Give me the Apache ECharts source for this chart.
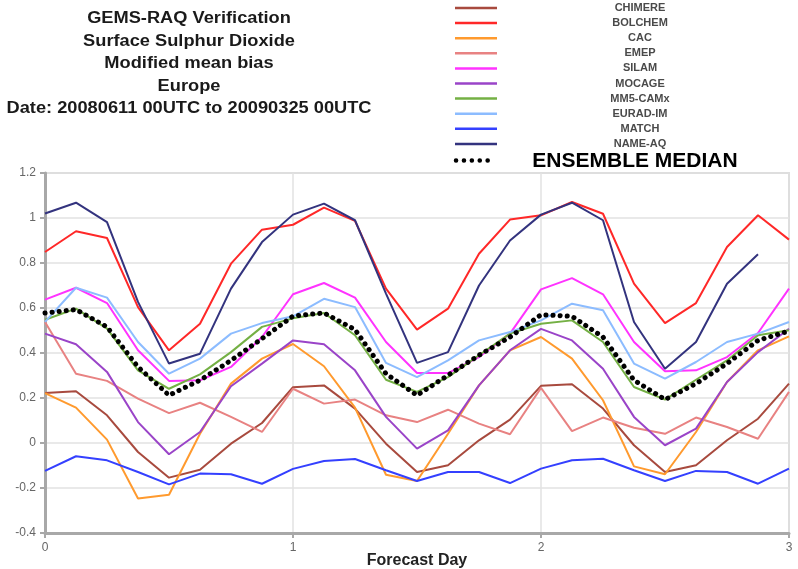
<!DOCTYPE html>
<html>
<head>
<meta charset="utf-8">
<script src="https://cdn.jsdelivr.net/npm/echarts@6/dist/echarts.min.js"></script>
<style>
  html, body { margin: 0; padding: 0; background: #fff; }
  #chart { width: 798px; height: 569px; }
</style>
</head>
<body>
<div id="chart"></div>
<script>
// Forecast lead time in days, 3-hourly steps from 0 to 3
const forecastDays = [0, 0.125, 0.25, 0.375, 0.5, 0.625, 0.75, 0.875,
  1, 1.125, 1.25, 1.375, 1.5, 1.625, 1.75, 1.875,
  2, 2.125, 2.25, 2.375, 2.5, 2.625, 2.75, 2.875, 3];

const yTicks = [-0.4, -0.2, 0, 0.2, 0.4, 0.6, 0.8, 1, 1.2];
const xTicks = [0, 1, 2, 3];
const xAxisTitle = 'Forecast Day';

const titleLines = [
  'GEMS-RAQ Verification',
  'Surface Sulphur Dioxide',
  'Modified mean bias',
  'Europe',
  'Date: 20080611 00UTC to 20090325 00UTC'
];

// Modified mean bias per model
const chimere = [0.222, 0.23, 0.123, -0.04, -0.154, -0.119, -0.003, 0.089, 0.248, 0.256, 0.153, -0.003, -0.129, -0.099, 0.012, 0.104, 0.254, 0.261, 0.153, -0.01, -0.129, -0.099, 0.012, 0.108, 0.264];
const bolchem = [0.849, 0.941, 0.911, 0.604, 0.412, 0.53, 0.797, 0.948, 0.97, 1.046, 0.987, 0.686, 0.504, 0.597, 0.841, 0.993, 1.012, 1.071, 1.019, 0.708, 0.533, 0.622, 0.871, 1.012, 0.904];
const cac = [0.222, 0.157, 0.015, -0.247, -0.23, 0.041, 0.264, 0.375, 0.44, 0.341, 0.157, -0.141, -0.169, 0.041, 0.256, 0.412, 0.471, 0.375, 0.19, -0.104, -0.139, 0.049, 0.271, 0.412, 0.474];
const emep = [0.538, 0.308, 0.276, 0.197, 0.133, 0.179, 0.116, 0.049, 0.241, 0.175, 0.193, 0.123, 0.093, 0.148, 0.086, 0.039, 0.245, 0.053, 0.113, 0.068, 0.041, 0.113, 0.071, 0.019, 0.227];
const silam = [0.637, 0.69, 0.622, 0.412, 0.276, 0.279, 0.338, 0.471, 0.661, 0.711, 0.646, 0.449, 0.311, 0.311, 0.382, 0.486, 0.683, 0.733, 0.661, 0.449, 0.319, 0.323, 0.382, 0.489, 0.686];
const mocage = [0.486, 0.439, 0.316, 0.093, -0.05, 0.049, 0.252, 0.353, 0.456, 0.439, 0.323, 0.116, -0.025, 0.056, 0.256, 0.412, 0.507, 0.456, 0.33, 0.116, -0.01, 0.064, 0.271, 0.404, 0.508];
const mm5camx = [0.548, 0.597, 0.508, 0.323, 0.241, 0.305, 0.404, 0.516, 0.554, 0.578, 0.479, 0.281, 0.227, 0.293, 0.39, 0.486, 0.53, 0.545, 0.449, 0.249, 0.193, 0.281, 0.367, 0.479, 0.501];
const euradim = [0.538, 0.69, 0.646, 0.449, 0.308, 0.375, 0.486, 0.533, 0.563, 0.641, 0.604, 0.356, 0.293, 0.367, 0.456, 0.493, 0.545, 0.619, 0.59, 0.353, 0.286, 0.36, 0.449, 0.486, 0.538];
const match = [-0.124, -0.059, -0.077, -0.129, -0.184, -0.136, -0.139, -0.181, -0.115, -0.08, -0.071, -0.121, -0.169, -0.129, -0.129, -0.178, -0.114, -0.077, -0.07, -0.121, -0.169, -0.124, -0.129, -0.181, -0.114];
const nameaq = [1.02, 1.068, 0.982, 0.627, 0.353, 0.397, 0.686, 0.893, 1.015, 1.064, 0.99, 0.664, 0.356, 0.404, 0.70, 0.90, 1.015, 1.068, 0.99, 0.538, 0.33, 0.449, 0.708, 0.839];
const ensembleMedian = [0.578, 0.593, 0.516, 0.338, 0.212, 0.279, 0.367, 0.464, 0.564, 0.578, 0.504, 0.308, 0.212, 0.301, 0.39, 0.471, 0.57, 0.563, 0.471, 0.279, 0.193, 0.264, 0.353, 0.456, 0.498];

const models = [
  { name: 'CHIMERE',  values: chimere,  color: '#a84a3e' },
  { name: 'BOLCHEM',  values: bolchem,  color: '#ff2828' },
  { name: 'CAC',      values: cac,      color: '#ff9a2e' },
  { name: 'EMEP',     values: emep,     color: '#e88282' },
  { name: 'SILAM',    values: silam,    color: '#ff33ff' },
  { name: 'MOCAGE',   values: mocage,   color: '#9a44c8' },
  { name: 'MM5-CAMx', values: mm5camx,  color: '#74b044' },
  { name: 'EURAD-IM', values: euradim,  color: '#8cbcff' },
  { name: 'MATCH',    values: match,    color: '#3440ff' },
  { name: 'NAME-AQ',  values: nameaq,   color: '#33337e' }
];
const medianName = 'ENSEMBLE MEDIAN';

const pairs = vals => vals.map((v, i) => [forecastDays[i], v]);

const series = models.map(m => ({
  name: m.name,
  type: 'line',
  data: pairs(m.values),
  symbol: 'none',
  lineStyle: { color: m.color, width: 2 },
  itemStyle: { color: m.color },
  animation: false
}));
series.push({
  name: medianName,
  type: 'line',
  data: pairs(ensembleMedian),
  symbol: 'none',
  z: 5,
  lineStyle: { color: '#000', width: 5, type: [0.1, 7], cap: 'round' },
  animation: false
});

// Legend drawn as graphic rows: swatch on the left, centred caption
const graphics = [];
const legendTop = 8, legendStep = 15.1;
models.forEach((m, i) => {
  const y = legendTop + i * legendStep;
  graphics.push({
    type: 'line', shape: { x1: 455, y1: y, x2: 497, y2: y },
    style: { stroke: m.color, lineWidth: 2.5 }
  });
  graphics.push({
    type: 'text', x: 640, y: y,
    style: { text: m.name, fill: '#4a4a4a', font: 'bold 11px "Liberation Sans", Arial, sans-serif',
             textAlign: 'center', textVerticalAlign: 'middle' }
  });
});
const medY = legendTop + models.length * legendStep + 1.5;
graphics.push({
  type: 'line', shape: { x1: 456, y1: medY, x2: 494, y2: medY },
  style: { stroke: '#000', lineWidth: 4.5, lineDash: [0.1, 7.8], lineCap: 'round' }
});
graphics.push({
  type: 'text', x: 635, y: medY + 1,
  style: { text: medianName, fill: '#000', font: 'bold 21px "Liberation Sans", Arial, sans-serif',
           textAlign: 'center', textVerticalAlign: 'middle' }
});
// Title block
titleLines.forEach((t, i) => {
  graphics.push({
    type: 'text', x: 189, y: 19 + i * 22.5, scaleX: 1.14, originX: 0,
    style: { text: t, fill: '#1a1a1a', font: 'bold 16px "Liberation Sans", Arial, sans-serif',
             textAlign: 'center', textVerticalAlign: 'middle' }
  });
});
// Horizontal axis title, centred under the plot area
graphics.push({
  type: 'text', x: 417, y: 561,
  style: { text: xAxisTitle, fill: '#222', font: 'bold 16px "Liberation Sans", Arial, sans-serif',
           textAlign: 'center', textVerticalAlign: 'middle' }
});

const chart = echarts.init(document.getElementById('chart'), null, { renderer: 'canvas' });
chart.setOption({
  backgroundColor: '#fff',
  animation: false,
  grid: { left: 45, right: 9, top: 173, bottom: 36, containLabel: false, outerBoundsMode: 'none',
          show: true, borderColor: '#c4c4c4', borderWidth: 1.5 },
  xAxis: {
    type: 'value', min: xTicks[0], max: xTicks[xTicks.length - 1], interval: 1,
    axisLine: { show: true, onZero: false, lineStyle: { color: '#a8a8a8', width: 3 } },
    axisTick: { show: true, length: 5, lineStyle: { color: '#a8a8a8', width: 2 } },
    axisLabel: { color: '#666', fontSize: 12, margin: 9, fontFamily: '"Liberation Sans", Arial, sans-serif' },
    splitLine: { show: true, lineStyle: { color: '#e2e2e2', width: 1.5 } }
  },
  yAxis: {
    type: 'value', min: yTicks[0], max: yTicks[yTicks.length - 1], interval: 0.2,
    axisLine: { show: true, onZero: false, lineStyle: { color: '#a8a8a8', width: 3 } },
    axisTick: { show: true, length: 5, lineStyle: { color: '#a8a8a8', width: 2 } },
    axisLabel: { color: '#666', fontSize: 12, margin: 9, fontFamily: '"Liberation Sans", Arial, sans-serif',
                 formatter: v => String(Math.round(v * 10) / 10) },
    splitLine: { show: true, lineStyle: { color: '#e2e2e2', width: 1.5 } }
  },
  graphic: graphics,
  series: series
});
</script>
</body>
</html>
